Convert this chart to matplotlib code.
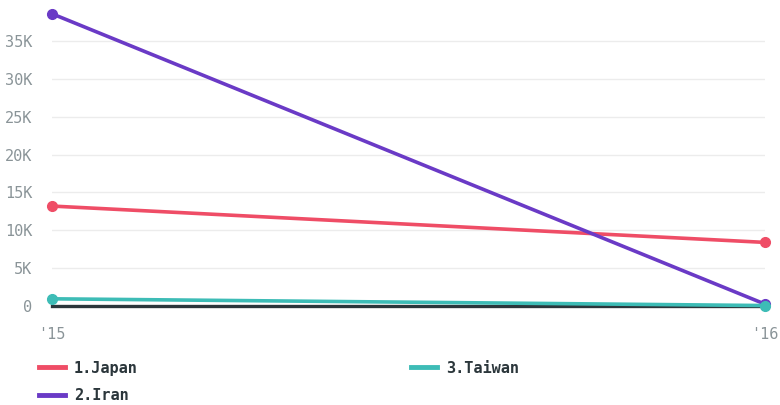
import matplotlib.pyplot as plt
from matplotlib.lines import Line2D
import numpy as np

years = ["'15", "'16"]
japan = [13200, 8400]
iran = [38600, 250]
taiwan = [950, 60]
names = ["1.Japan", "2.Iran", "3.Taiwan"]
colors = ["#ef4d66", "#6a3ac6", "#3dbcb6"]
yticks = [0, 5000, 10000, 15000, 20000, 25000, 30000, 35000]
ylabels = ["0", "5K", "10K", "15K", "20K", "25K", "30K", "35K"]

plt.rcParams['font.family'] = ['DejaVu Sans Mono']

fig = plt.figure(figsize=(7.8, 4.05), dpi=100)
ax = fig.add_axes([52/780, 99/405, 713/780, 293/405])

x = np.arange(len(years))
for vals, name, c in zip([japan, iran, taiwan], names, colors):
    ax.plot(x, vals, color=c, lw=2.6, marker='o', ms=7, label=name,
            clip_on=False, zorder=3)

ax.set_xlim(0, 1)
ax.set_ylim(0, 38700)
ax.set_yticks(yticks)
ax.set_yticklabels(ylabels)
ax.set_xticks(x)
ax.set_xticklabels(years)
ax.grid(axis='y', color='#ececec', lw=1)
ax.axhline(0, color='#2b363b', lw=2.4, zorder=2, clip_on=False)
for s in ax.spines.values():
    s.set_visible(False)
ax.tick_params(length=0, labelsize=11, labelcolor='#8a9498')
ax.tick_params(axis='y', pad=14)
ax.tick_params(axis='x', pad=15)

handles = [Line2D([], [], color=c, lw=3.5) for c in colors]
fig.legend(handles=handles, labels=names, ncol=2, loc='upper left',
           bbox_to_anchor=(25/780, 1 - 347/405),
           frameon=False, prop={'weight': 'bold', 'size': 11}, handlelength=1.7,
           columnspacing=17.9, labelspacing=0.8, handletextpad=0.6,
           labelcolor='#2b363b')

fig.savefig('out.png', dpi=100)
